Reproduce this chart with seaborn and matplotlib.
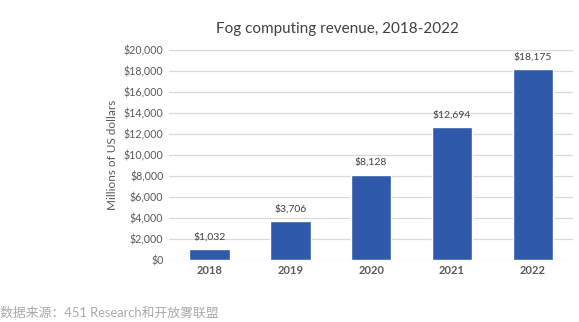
import matplotlib
matplotlib.use("Agg")
import matplotlib.pyplot as plt
import seaborn as sns
import pandas as pd

years = ["2018", "2019", "2020", "2021", "2022"]
revenue = [1032, 3706, 8128, 12694, 18175]
yticks = [0, 2000, 4000, 6000, 8000, 10000, 12000, 14000, 16000, 18000, 20000]

sns.set_theme(style="white")
plt.rcParams['font.family'] = ['Lato', 'Noto Sans CJK SC', 'DejaVu Sans']

df = pd.DataFrame({"year": years, "revenue": revenue})

fig = plt.figure(figsize=(5.79, 3.22), dpi=100)
ax = fig.add_axes([0.292, 0.193, 0.698, 0.652])
sns.barplot(data=df, x="year", y="revenue", color="#2F5AAB", width=0.5,
            saturation=1, ax=ax, zorder=3)
ax.set_xlim(-0.5, 4.5)
ax.set_ylim(0, 20000)
ax.set_yticks(yticks)
ax.set_yticklabels([f"${v:,}" for v in yticks], fontsize=7.7, color="#595959")
ax.yaxis.grid(True, color="#d9d9d9", linewidth=0.9, zorder=0)
for s in ax.spines.values():
    s.set_visible(False)
ax.tick_params(axis="both", length=0, pad=4)
for lbl in ax.get_xticklabels():
    lbl.set_fontweight("bold")
    lbl.set_fontsize(8)
    lbl.set_color("#595959")
ax.set_xlabel("")
ax.set_ylabel("Millions of US dollars", fontsize=8.5, color="#595959", labelpad=4)
for i, v in enumerate(revenue):
    ax.text(i, v + 700, f"${v:,}", ha="center", va="bottom", fontsize=7.5, color="#404040")
fig.text(0.582, 0.91, "Fog computing revenue, 2018-2022", ha="center", va="center",
         fontsize=11, color="#404040")
fig.text(0.0, 0.03, "数据来源：451 Research和开放雾联盟", ha="left", va="center",
         fontsize=9.3, color="#aaaaaa")
fig.savefig("out.png", dpi=100)
